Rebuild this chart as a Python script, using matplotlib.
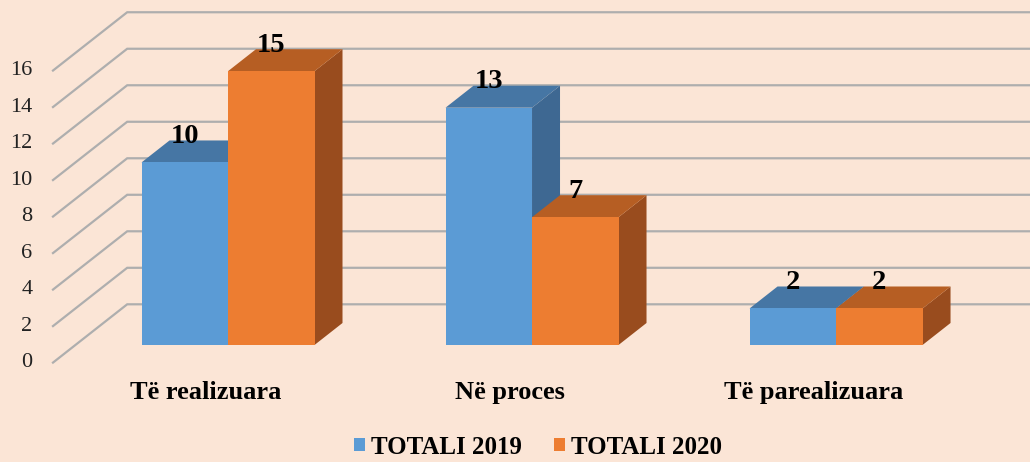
import matplotlib
matplotlib.use("Agg")
import matplotlib.pyplot as plt
from matplotlib.patches import Polygon, Patch

# ---- data ----
categories = ["Të realizuara", "Në proces", "Të parealizuara"]
series_names = ["TOTALI 2019", "TOTALI 2020"]
totali_2019 = [10, 13, 2]
totali_2020 = [15, 7, 2]
ytick_values = [0, 2, 4, 6, 8, 10, 12, 14, 16]

# ---- style ----
BG = "#FBE5D6"
FRONT = ["#5B9BD5", "#ED7D31"]
TOP = ["#4676A4", "#B65E23"]
SIDE = ["#3E6892", "#994C1E"]
GRID = "#AEAEAE"
SERIF = ["Liberation Serif", "DejaVu Serif"]

# oblique projection: per unit of depth
DX, DY = 0.0921, 1.205
Z_FRONT, Z_BACK = -0.8, 1.85
X_LEFT = -0.502
BAR_W = 0.2845

def proj(x, v, z):
    return (x + z * DX, v + z * DY)

fig = plt.figure(figsize=(10.30, 4.62), dpi=100)
fig.patch.set_facecolor(BG)
ax = fig.add_axes([0, 0, 1, 1])
ax.set_facecolor(BG)
ax.set_xlim(-0.75, 2.638)
ax.set_ylim(-6.41, 18.90)
ax.axis("off")

# gridlines: left wall diagonals + back wall horizontals
for v in ytick_values:
    p0 = proj(X_LEFT, v, Z_FRONT)
    p1 = proj(X_LEFT, v, Z_BACK)
    ax.plot([p0[0], p1[0], 3.5], [p0[1], p1[1], p1[1]], color=GRID, lw=1.6,
            zorder=1, solid_joinstyle="miter")
    ax.text(p0[0] - 0.068, p0[1], str(v), ha="right", va="center",
            fontsize=16, family=SERIF, color="#222222")

# bars
series = [totali_2019, totali_2020]
offsets = [-BAR_W / 2, BAR_W / 2]
for i in range(len(categories)):
    for s, vals in enumerate(series):
        v = vals[i]
        xc = i + offsets[s]
        x0, x1 = xc - BAR_W / 2, xc + BAR_W / 2
        zo = 2 + s * 3
        side = [proj(x1, 0, 0), proj(x1, 0, 1), proj(x1, v, 1), proj(x1, v, 0)]
        top = [proj(x0, v, 0), proj(x0, v, 1), proj(x1, v, 1), proj(x1, v, 0)]
        ax.add_patch(Polygon(side, closed=True, facecolor=SIDE[s], edgecolor="none", zorder=zo))
        ax.add_patch(Polygon(top, closed=True, facecolor=TOP[s], edgecolor="none", zorder=zo + 1))
        ax.bar(xc, v, width=BAR_W, color=FRONT[s], zorder=zo + 2, linewidth=0)
        ax.text(xc, v + 1.42, str(v), ha="center", va="center", fontsize=20.5,
                fontweight="bold", family=SERIF, color="black", zorder=20)

# category labels on the front floor edge
for i, c in enumerate(categories):
    px, py = proj(i, 0, Z_FRONT)
    ax.text(px, -2.58, c, ha="center", va="center", fontsize=19,
            fontweight="bold", family=SERIF, color="black")

handles = [Patch(facecolor=FRONT[k], edgecolor="none", label=series_names[k]) for k in range(2)]
leg = ax.legend(handles=handles, loc="center", bbox_to_anchor=(538 / 1030, 1 - 447 / 462),
                bbox_transform=fig.transFigure, ncol=2, frameon=False,
                prop={"family": SERIF, "weight": "bold", "size": 18},
                handlelength=0.45, handleheight=0.45, handletextpad=0.25,
                columnspacing=1.25, borderpad=0)

fig.savefig("out.png", dpi=100, facecolor=BG)
